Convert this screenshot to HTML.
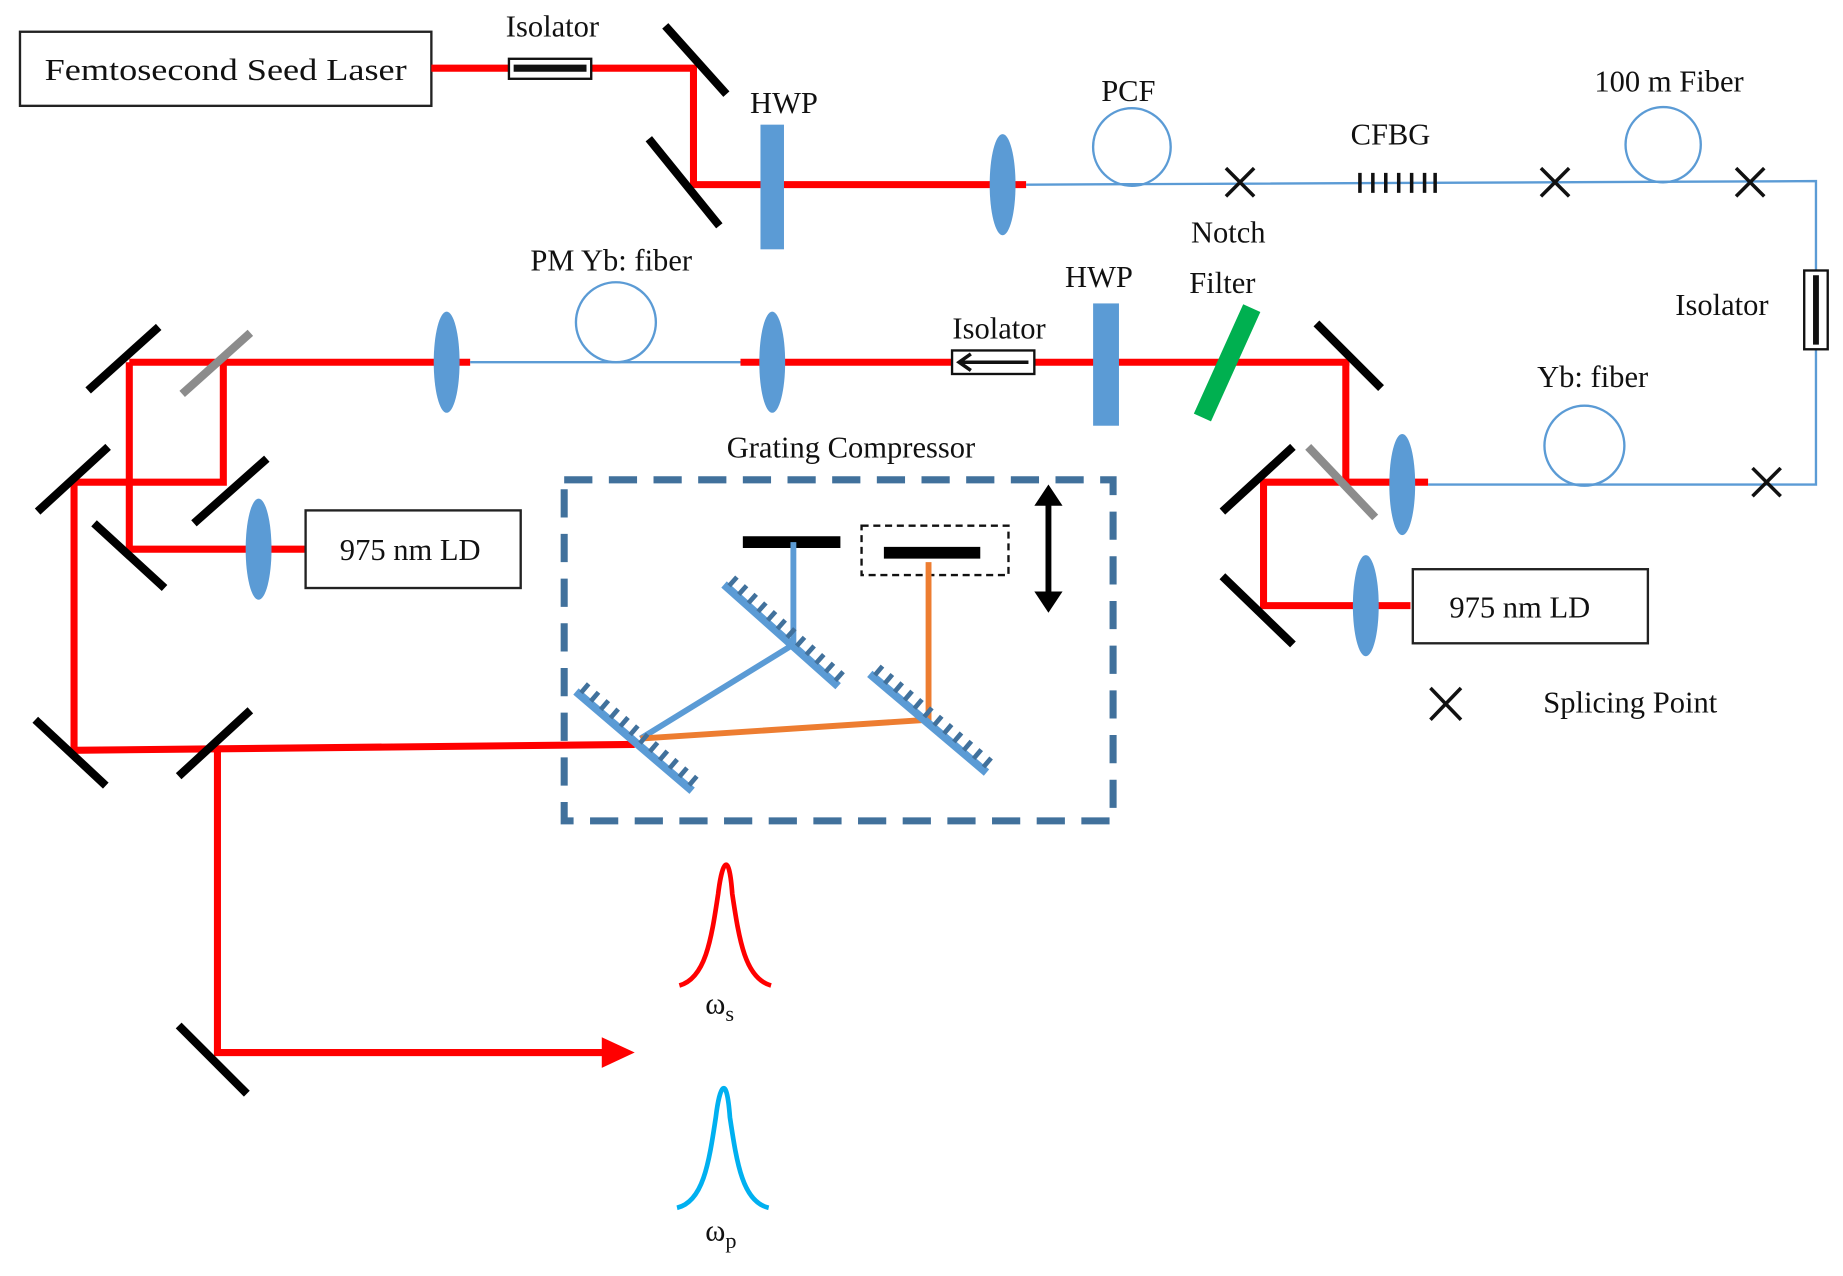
<!DOCTYPE html>
<html><head><meta charset="utf-8"><style>
html,body{margin:0;padding:0;background:#fff;}
svg{display:block;}
text{font-family:"Liberation Serif",serif;font-size:26px;fill:#111;}
</style></head><body>
<svg width="1843" height="1276" viewBox="0 0 1568 1085" preserveAspectRatio="none" xmlns="http://www.w3.org/2000/svg">
<defs>
<g id="grat">
<line x1="0" y1="0" x2="130" y2="0" stroke="#5b9bd5" stroke-width="7"/>
<line x1="2" y1="-7" x2="128" y2="-7" stroke="#41719c" stroke-width="10" stroke-dasharray="4 7"/>
</g>
</defs>
<rect x="17" y="27" width="350" height="63" fill="#fff" stroke="#222" stroke-width="2"/>
<text x="38" y="68" textLength="308" lengthAdjust="spacingAndGlyphs">Femtosecond Seed Laser</text>
<g stroke="#f00" stroke-width="6" fill="none">
<polyline points="367,58 590,58 590,157 873,157"/>
<line x1="630" y1="308" x2="1148" y2="308"/>
<polyline points="1145,308 1145,410 1215,410"/>
<polyline points="1145,410 1075,410 1075,515 1200,515"/>
<line x1="110" y1="308" x2="400" y2="308"/>
<polyline points="110,308 110,467 260,467"/>
<polyline points="190,308 190,410 63,410 63,638 540,633"/>
<polyline points="185,636 185,895 515,895"/>
</g>
<polygon points="512,882 540,895 512,908" fill="#f00"/>
<g stroke="#5b9bd5" stroke-width="2" fill="none">
<polyline points="873,157 1545,154 1545,412 1215,412"/>
<line x1="400" y1="308" x2="630" y2="308"/>
<circle cx="963" cy="125" r="33"/>
<circle cx="1415" cy="123" r="32"/>
<circle cx="1348" cy="379" r="34"/>
<circle cx="524" cy="274" r="34"/>
</g>
<rect x="433" y="50" width="70" height="17" fill="#fff" stroke="#111" stroke-width="2"/>
<line x1="437" y1="58" x2="499" y2="58" stroke="#111" stroke-width="6"/>
<text x="470" y="31" text-anchor="middle">Isolator</text>
<rect x="810" y="298" width="70" height="20" fill="#fff" stroke="#111" stroke-width="2"/>
<line x1="818" y1="308" x2="875" y2="308" stroke="#111" stroke-width="3"/>
<polyline points="826,301 816,308 826,315" fill="none" stroke="#111" stroke-width="3"/>
<text x="850" y="288" text-anchor="middle">Isolator</text>
<rect x="1535" y="230" width="20" height="67" fill="#fff" stroke="#111" stroke-width="2"/>
<line x1="1545" y1="234" x2="1545" y2="293" stroke="#111" stroke-width="5"/>
<text x="1465" y="268" text-anchor="middle">Isolator</text>
<g stroke="#000" stroke-width="7">
<line x1="566" y1="22" x2="618" y2="80"/>
<line x1="552" y1="118" x2="612" y2="192"/>
<line x1="1120" y1="275" x2="1175" y2="330"/>
<line x1="1040" y1="435" x2="1100" y2="380"/>
<line x1="1040" y1="490" x2="1100" y2="548"/>
<line x1="75" y1="332" x2="135" y2="278"/>
<line x1="165" y1="445" x2="227" y2="390"/>
<line x1="80" y1="445" x2="140" y2="500"/>
<line x1="32" y1="435" x2="92" y2="380"/>
<line x1="30" y1="612" x2="90" y2="668"/>
<line x1="152" y1="660" x2="213" y2="604"/>
<line x1="152" y1="872" x2="210" y2="930"/>
</g>
<g stroke="#8c8c8c" stroke-width="7">
<line x1="155" y1="335" x2="213" y2="283"/>
<line x1="1113" y1="380" x2="1170" y2="440"/>
</g>
<g fill="#5b9bd5">
<rect x="647" y="106" width="20" height="106"/>
<rect x="930" y="258" width="22" height="104"/>
<ellipse cx="853" cy="157" rx="11" ry="43"/>
<ellipse cx="657" cy="308" rx="11" ry="43"/>
<ellipse cx="380" cy="308" rx="11" ry="43"/>
<ellipse cx="1193" cy="412" rx="11" ry="43"/>
<ellipse cx="1162" cy="515" rx="11" ry="43"/>
<ellipse cx="220" cy="467" rx="11" ry="43"/>
</g>
<text x="667" y="96" text-anchor="middle">HWP</text>
<text x="935" y="244" text-anchor="middle">HWP</text>
<line x1="1065" y1="262" x2="1023" y2="355" stroke="#00b050" stroke-width="16"/>
<text x="1045" y="206" text-anchor="middle">Notch</text>
<text x="1040" y="249" text-anchor="middle">Filter</text>
<text x="960" y="86" text-anchor="middle">PCF</text>
<text x="1183" y="123" text-anchor="middle">CFBG</text>
<text x="1420" y="78" text-anchor="middle">100 m Fiber</text>
<text x="1355" y="329" text-anchor="middle">Yb: fiber</text>
<text x="520" y="230" text-anchor="middle">PM Yb: fiber</text>
<g stroke="#111" stroke-width="3">
<line x1="1157" y1="147" x2="1157" y2="164"/><line x1="1168" y1="147" x2="1168" y2="164"/>
<line x1="1179" y1="147" x2="1179" y2="164"/><line x1="1190" y1="147" x2="1190" y2="164"/>
<line x1="1201" y1="147" x2="1201" y2="164"/><line x1="1212" y1="147" x2="1212" y2="164"/>
<line x1="1221" y1="147" x2="1221" y2="164"/>
</g>
<g stroke="#111" stroke-width="3">
<path d="M1043,143 L1067,167 M1067,143 L1043,167"/>
<path d="M1311,143 L1335,167 M1335,143 L1311,167"/>
<path d="M1477,143 L1501,167 M1501,143 L1477,167"/>
<path d="M1491,398 L1515,422 M1515,398 L1491,422"/>
<path d="M1217,585 L1243,612 M1243,585 L1217,612"/>
</g>
<text x="1387" y="606" text-anchor="middle">Splicing Point</text>
<rect x="260" y="434" width="183" height="66" fill="#fff" stroke="#222" stroke-width="2"/>
<text x="349" y="476" text-anchor="middle">975 nm LD</text>
<rect x="1202" y="484" width="200" height="63" fill="#fff" stroke="#222" stroke-width="2"/>
<text x="1293" y="525" text-anchor="middle">975 nm LD</text>
<rect x="480" y="408" width="467" height="290" fill="none" stroke="#41719c" stroke-width="6" stroke-dasharray="24 14"/>
<text x="724" y="389" text-anchor="middle">Grating Compressor</text>
<rect x="733" y="447" width="125" height="42" fill="none" stroke="#111" stroke-width="2" stroke-dasharray="6 4"/>
<line x1="632" y1="461" x2="715" y2="461" stroke="#000" stroke-width="10"/>
<line x1="752" y1="470" x2="834" y2="470" stroke="#000" stroke-width="10"/>
<line x1="892" y1="425" x2="892" y2="508" stroke="#000" stroke-width="5"/>
<polygon points="880,430 892,412 904,430" fill="#000"/>
<polygon points="880,503 892,521 904,503" fill="#000"/>
<g stroke-width="5" fill="none">
<polyline points="675,461 675,548 545,628" stroke="#5b9bd5"/>
<polyline points="545,628 790,612 790,478" stroke="#ed7d31"/>
</g>
<use href="#grat" transform="translate(490,588) rotate(40.5)"/>
<use href="#grat" transform="translate(616,497) rotate(41.7)"/>
<use href="#grat" transform="translate(740,573) rotate(40.2)"/>
<path d="M578,838 C600,832 605,800 611,760 C614,735 620,720 623,760 C629,800 634,832 656,838" fill="none" stroke="#f00" stroke-width="4"/>
<text x="600" y="862" font-size="28">ω<tspan font-size="19" dy="6">s</tspan></text>
<path d="M576,1027 C598,1022 603,990 609,950 C612,925 618,910 621,950 C627,990 632,1022 654,1027" fill="none" stroke="#00b0f0" stroke-width="4"/>
<text x="600" y="1055" font-size="28">ω<tspan font-size="19" dy="6">p</tspan></text>
</svg>
</body></html>
